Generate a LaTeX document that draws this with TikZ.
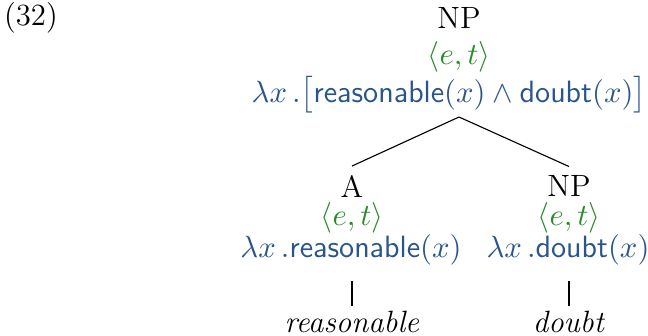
\documentclass[tikz,border=0pt]{standalone}
\usepackage{amsmath}
\definecolor{tgreen}{RGB}{40,140,40}
\definecolor{tblue}{RGB}{40,85,140}
\begin{document}
\begin{tikzpicture}[x=0.357pt,y=-0.357pt,
  lab/.style={font=\fontsize{11}{13}\selectfont, inner sep=0pt, anchor=center},
  typ/.style={lab, text=tgreen},
  sem/.style={lab, text=tblue},
  edge/.style={draw=black, line width=0.4pt}]
\useasboundingbox (0,0) rectangle (648,335);
\node[lab] (ex) at (31,18) {(32)};
\node[lab] (np) at (459,18) {NP};
\node[typ] (npt) at (459,57) {$\langle e,t\rangle$};
\node[sem] (nps) at (449,95) {$\lambda x\,.\bigl[\textsf{reasonable}(x)\wedge\textsf{doubt}(x)\bigr]$};
\coordinate (top) at (459,117);
\node[lab] (a) at (352,186) {A};
\node[typ] (at) at (352,218) {$\langle e,t\rangle$};
\node[sem] (as) at (351,250) {$\lambda x\,.\textsf{reasonable}(x)$};
\node[lab] (aw) at (352,322) {\textit{reasonable}};
\node[lab] (n) at (569,186) {NP};
\node[typ] (nt) at (569,218) {$\langle e,t\rangle$};
\node[sem] (ns) at (568,250) {$\lambda x\,.\textsf{doubt}(x)$};
\node[lab] (nw) at (569,322) {\textit{doubt}};
\draw[edge] (top) -- ([yshift=3pt]a.north);
\draw[edge] (top) -- ([yshift=3pt]n.north);
\draw[edge] ([yshift=-5.5pt]as.south -| a) -- ([yshift=1.5pt]aw.north);
\draw[edge] ([yshift=-5.5pt]ns.south -| n) -- ([yshift=1.5pt]nw.north);
\end{tikzpicture}
\end{document}
